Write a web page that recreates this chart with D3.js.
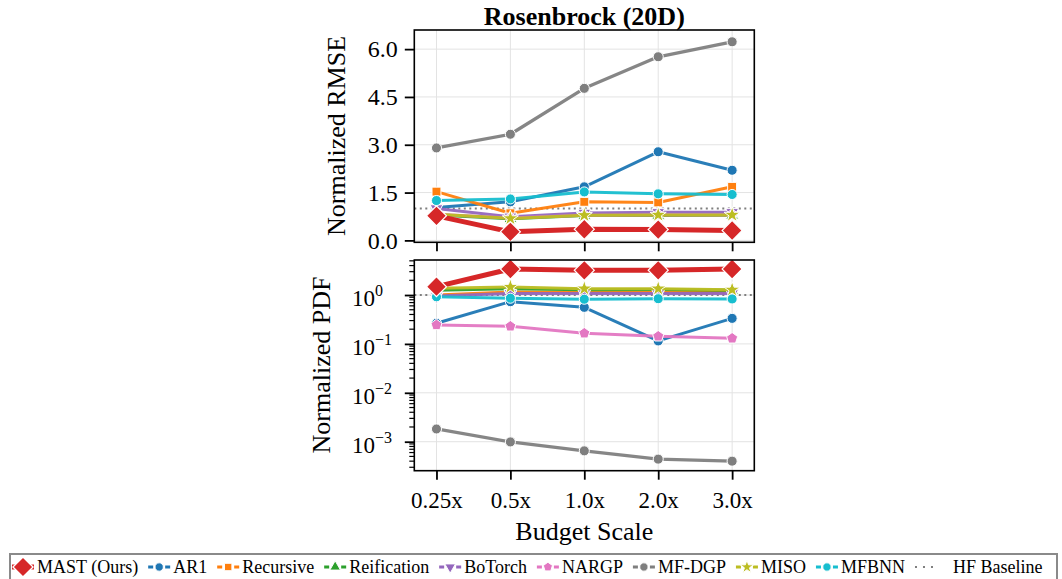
<!DOCTYPE html>
<html>
<head>
<meta charset="utf-8">
<script src="https://cdn.jsdelivr.net/npm/d3@7"></script>
<style>
  body { margin: 0; background: #fff; }
  text { font-family: "Liberation Serif", "DejaVu Serif", serif; fill: #000; }
</style>
</head>
<body>
<svg id="chart" width="1062" height="579"></svg>
<script>
const budgets = ["0.25x", "0.5x", "1.0x", "2.0x", "3.0x"];
const methods = ["MAST (Ours)", "AR1", "Recursive", "Reification", "BoTorch", "NARGP", "MF-DGP", "MISO", "MFBNN"];
const colors = ["#d62728", "#1f77b4", "#ff7f0e", "#2ca02c", "#9467bd", "#e377c2", "#7f7f7f", "#bcbd22", "#17becf"];
const markers = ["diamond", "circle", "square", "triUp", "triDown", "pentagon", "circle", "star", "circle"];

// normalized RMSE (linear panel)
const rmseMAST = [0.77, 0.27, 0.35, 0.34, 0.31];
const rmseAR1 = [1.03, 1.21, 1.68, 2.78, 2.2];
const rmseRecursive = [1.53, 0.85, 1.21, 1.19, 1.68];
const rmseReification = [0.8, 0.68, 0.78, 0.78, 0.79];
const rmseBoTorch = [1.0, 0.74, 0.86, 0.88, 0.88];
const rmseNARGP = [0.82, 0.7, 0.79, 0.8, 0.8];
const rmseMFDGP = [2.9, 3.33, 4.77, 5.76, 6.23];
const rmseMISO = [0.82, 0.69, 0.79, 0.8, 0.8];
const rmseMFBNN = [1.25, 1.3, 1.52, 1.46, 1.44];

// normalized PDF (log panel)
const pdfMAST = [1.48, 3.4, 3.2, 3.2, 3.4];
const pdfAR1 = [0.264, 0.73, 0.56, 0.115, 0.333];
const pdfRecursive = [1.0, 1.15, 1.12, 1.12, 1.12];
const pdfReification = [1.25, 1.35, 1.28, 1.3, 1.25];
const pdfBoTorch = [0.95, 1.08, 1.07, 1.07, 1.07];
const pdfNARGP = [0.244, 0.229, 0.165, 0.143, 0.13];
const pdfMFDGP = [0.00182, 0.00099, 0.00065, 0.00044, 0.0004];
const pdfMISO = [1.37, 1.46, 1.35, 1.35, 1.28];
const pdfMFBNN = [0.92, 0.86, 0.82, 0.84, 0.83];

const rmseValues = [rmseMAST, rmseAR1, rmseRecursive, rmseReification, rmseBoTorch, rmseNARGP, rmseMFDGP, rmseMISO, rmseMFBNN];
const pdfValues = [pdfMAST, pdfAR1, pdfRecursive, pdfReification, pdfBoTorch, pdfNARGP, pdfMFDGP, pdfMISO, pdfMFBNN];
const rmseTicks = [0, 1.5, 3.0, 4.5, 6.0];
const pdfTicks = [1e-3, 1e-2, 1e-1, 1];
const hfBaseline = 1.0;

const svg = d3.select("#chart");
const left = 414.3, right = 754.3;

const x = d3.scalePoint().domain(budgets).range([left, right]).padding(0.3);
const yTop = d3.scaleLinear().domain([-0.06, 6.6]).range([242.3, 30]);
const yBot = d3.scaleLog().domain([Math.pow(10, -3.593), 5.2]).range([470.7, 260]);

const pentagon = {
  draw(ctx, size) {
    const r = Math.sqrt(size / 2.378);
    for (let i = 0; i < 5; i++) {
      const a = -Math.PI / 2 + i * 2 * Math.PI / 5;
      if (i === 0) ctx.moveTo(r * Math.cos(a), r * Math.sin(a));
      else ctx.lineTo(r * Math.cos(a), r * Math.sin(a));
    }
    ctx.closePath();
  }
};

function markerPath(kind, big, sz) {
  const s = sz || 80;
  if (kind === "diamond") return { d: d3.symbol(d3.symbolSquare, big ? 110 : 60)(), rot: 45 };
  if (kind === "circle") return { d: d3.symbol(d3.symbolCircle, s)(), rot: 0 };
  if (kind === "square") return { d: d3.symbol(d3.symbolSquare, s)(), rot: 0 };
  if (kind === "triUp") return { d: d3.symbol(d3.symbolTriangle, s * 0.9)(), rot: 0 };
  if (kind === "triDown") return { d: d3.symbol(d3.symbolTriangle, s * 0.9)(), rot: 180 };
  if (kind === "pentagon") return { d: d3.symbol(pentagon, s)(), rot: 0 };
  if (kind === "star") return { d: d3.symbol(d3.symbolStar, s)(), rot: 0 };
}

function drawPanel(y, top, bottom, values, isLog, showXLabels) {
  const g = svg.append("g");

  // grid
  g.selectAll(".gx").data(budgets).enter().append("line")
    .attr("x1", d => x(d)).attr("x2", d => x(d))
    .attr("y1", top).attr("y2", bottom)
    .attr("stroke", "#e3e3e3").attr("stroke-width", 1);
  const yt = isLog ? pdfTicks : rmseTicks;
  g.selectAll(".gy").data(yt).enter().append("line")
    .attr("x1", left).attr("x2", right)
    .attr("y1", d => y(d)).attr("y2", d => y(d))
    .attr("stroke", "#e3e3e3").attr("stroke-width", 1);

  // HF baseline
  g.append("line")
    .attr("x1", left).attr("x2", right)
    .attr("y1", y(hfBaseline)).attr("y2", y(hfBaseline))
    .attr("stroke", "#7f7f7f").attr("stroke-width", 2.2)
    .attr("stroke-dasharray", "2,3.5");

  const line = d3.line().x((d, i) => x(budgets[i])).y(d => y(d));
  const order = [1, 2, 3, 4, 5, 6, 7, 8, 0];
  order.forEach(k => {
    const s = g.append("g");
    s.append("path").datum(values[k])
      .attr("d", line).attr("fill", "none")
      .attr("stroke", colors[k]).attr("stroke-width", k === 0 ? 5 : (k === 6 ? 3.3 : 3))
      .attr("stroke-linejoin", "round").attr("stroke-linecap", "round")
      .attr("opacity", k === 0 ? 1 : 0.95);
    const m = markerPath(markers[k], k === 0);
    s.selectAll("path.m").data(values[k]).enter().append("path")
      .attr("class", "m")
      .attr("d", m.d)
      .attr("transform", (d, i) => `translate(${x(budgets[i])},${y(d)}) rotate(${m.rot})` + (k === 0 ? " scale(1.35)" : ""))
      .attr("fill", colors[k]).attr("stroke", "#fff").attr("stroke-width", k === 0 ? 0.9 : 1);
  });

  // frame
  g.append("rect").attr("x", left).attr("y", top)
    .attr("width", right - left).attr("height", bottom - top)
    .attr("fill", "none").attr("stroke", "#000").attr("stroke-width", 1.6);

  // y axis
  const yAxis = isLog
    ? d3.axisLeft(y).tickValues(pdfTicks).tickSize(9.5).tickFormat("")
    : d3.axisLeft(y).tickValues(rmseTicks).tickSize(9.5).tickPadding(7).tickFormat(d3.format(".1f"));
  const ya = g.append("g").attr("transform", `translate(${left},0)`).call(yAxis);
  ya.select(".domain").remove();
  ya.selectAll(".tick line").attr("stroke-width", 1.8);
  ya.selectAll(".tick text").style("font-size", "24px");

  if (isLog) {
    const minor = [];
    for (let e = -4; e <= 0; e++) {
      for (let m = 2; m <= 9; m++) {
        const v = m * Math.pow(10, e);
        if (v >= y.domain()[0] && v <= y.domain()[1]) minor.push(v);
      }
    }
    g.selectAll(".minor").data(minor).enter().append("line")
      .attr("x1", left - 5).attr("x2", left)
      .attr("y1", d => y(d)).attr("y2", d => y(d))
      .attr("stroke", "#000").attr("stroke-width", 1.2);
    const lab = g.selectAll(".loglab").data(pdfTicks).enter().append("text")
      .attr("x", 352).attr("y", d => y(d) + 11)
      .attr("text-anchor", "start")
      .style("font-size", "23px");
    lab.append("tspan").text("10");
    lab.append("tspan").attr("dy", -10).style("font-size", "16px")
      .text(d => {
        const e = Math.round(Math.log10(d));
        return e < 0 ? "\u2212" + (-e) : "" + e;
      });
  }

  // x axis
  const xa = g.append("g").attr("transform", `translate(0,${bottom})`)
    .call(d3.axisBottom(x).tickSize(9).tickPadding(12).tickFormat(showXLabels ? null : ""));
  xa.select(".domain").remove();
  xa.selectAll(".tick line").attr("stroke-width", 1.8);
  xa.selectAll(".tick text").style("font-size", "23px");
}

drawPanel(yTop, 30, 242.3, rmseValues, false, false);
drawPanel(yBot, 260, 470.7, pdfValues, true, true);

// titles and labels
svg.append("text").attr("x", (left + right) / 2).attr("y", 25)
  .attr("text-anchor", "middle").style("font-size", "26px").style("font-weight", "bold")
  .text("Rosenbrock (20D)");
svg.append("text").attr("transform", `translate(345,136) rotate(-90)`)
  .attr("text-anchor", "middle").style("font-size", "26px").text("Normalized RMSE");
svg.append("text").attr("transform", `translate(330,365) rotate(-90)`)
  .attr("text-anchor", "middle").style("font-size", "26px").text("Normalized PDF");
svg.append("text").attr("x", (left + right) / 2).attr("y", 540)
  .attr("text-anchor", "middle").style("font-size", "26px").text("Budget Scale");

// legend
const legendItems = methods.map((m, i) => ({ name: m, color: colors[i], marker: markers[i], idx: i }));
legendItems.push({ name: "HF Baseline", color: "#7f7f7f", marker: null, idx: -1 });
const lg = svg.append("g");
lg.append("rect").attr("x", 10).attr("y", 554).attr("width", 1047).attr("height", 30)
  .attr("fill", "#fff").attr("stroke", "#8a8a8a").attr("stroke-width", 2);
let cx = 12;
const ly = 567;
legendItems.forEach(it => {
  const item = lg.append("g");
  if (it.marker) {
    item.append("line").attr("x1", cx).attr("x2", cx + 22).attr("y1", ly).attr("y2", ly)
      .attr("stroke", it.color).attr("stroke-width", it.idx === 0 ? 5 : 3)
      .attr("stroke-dasharray", it.idx === 0 ? null : "5,12");
    const m = markerPath(it.marker, it.idx === 0, 55);
    item.append("path").attr("d", m.d)
      .attr("transform", `translate(${cx + 11},${ly}) rotate(${m.rot})` + (it.idx === 0 ? " scale(1.35)" : ""))
      .attr("fill", it.color).attr("stroke", "#fff").attr("stroke-width", 1);
  } else {
    item.append("line").attr("x1", cx).attr("x2", cx + 22).attr("y1", ly).attr("y2", ly)
      .attr("stroke", it.color).attr("stroke-width", 2.2).attr("stroke-dasharray", "2,6");
  }
  const t = item.append("text").attr("x", cx + (it.marker ? 25 : 38)).attr("y", ly + 6)
    .style("font-size", "18px").text(it.name);
  cx = cx + (it.marker ? 25 : 38) + t.node().getComputedTextLength() + 10;
});
</script>
</body>
</html>
